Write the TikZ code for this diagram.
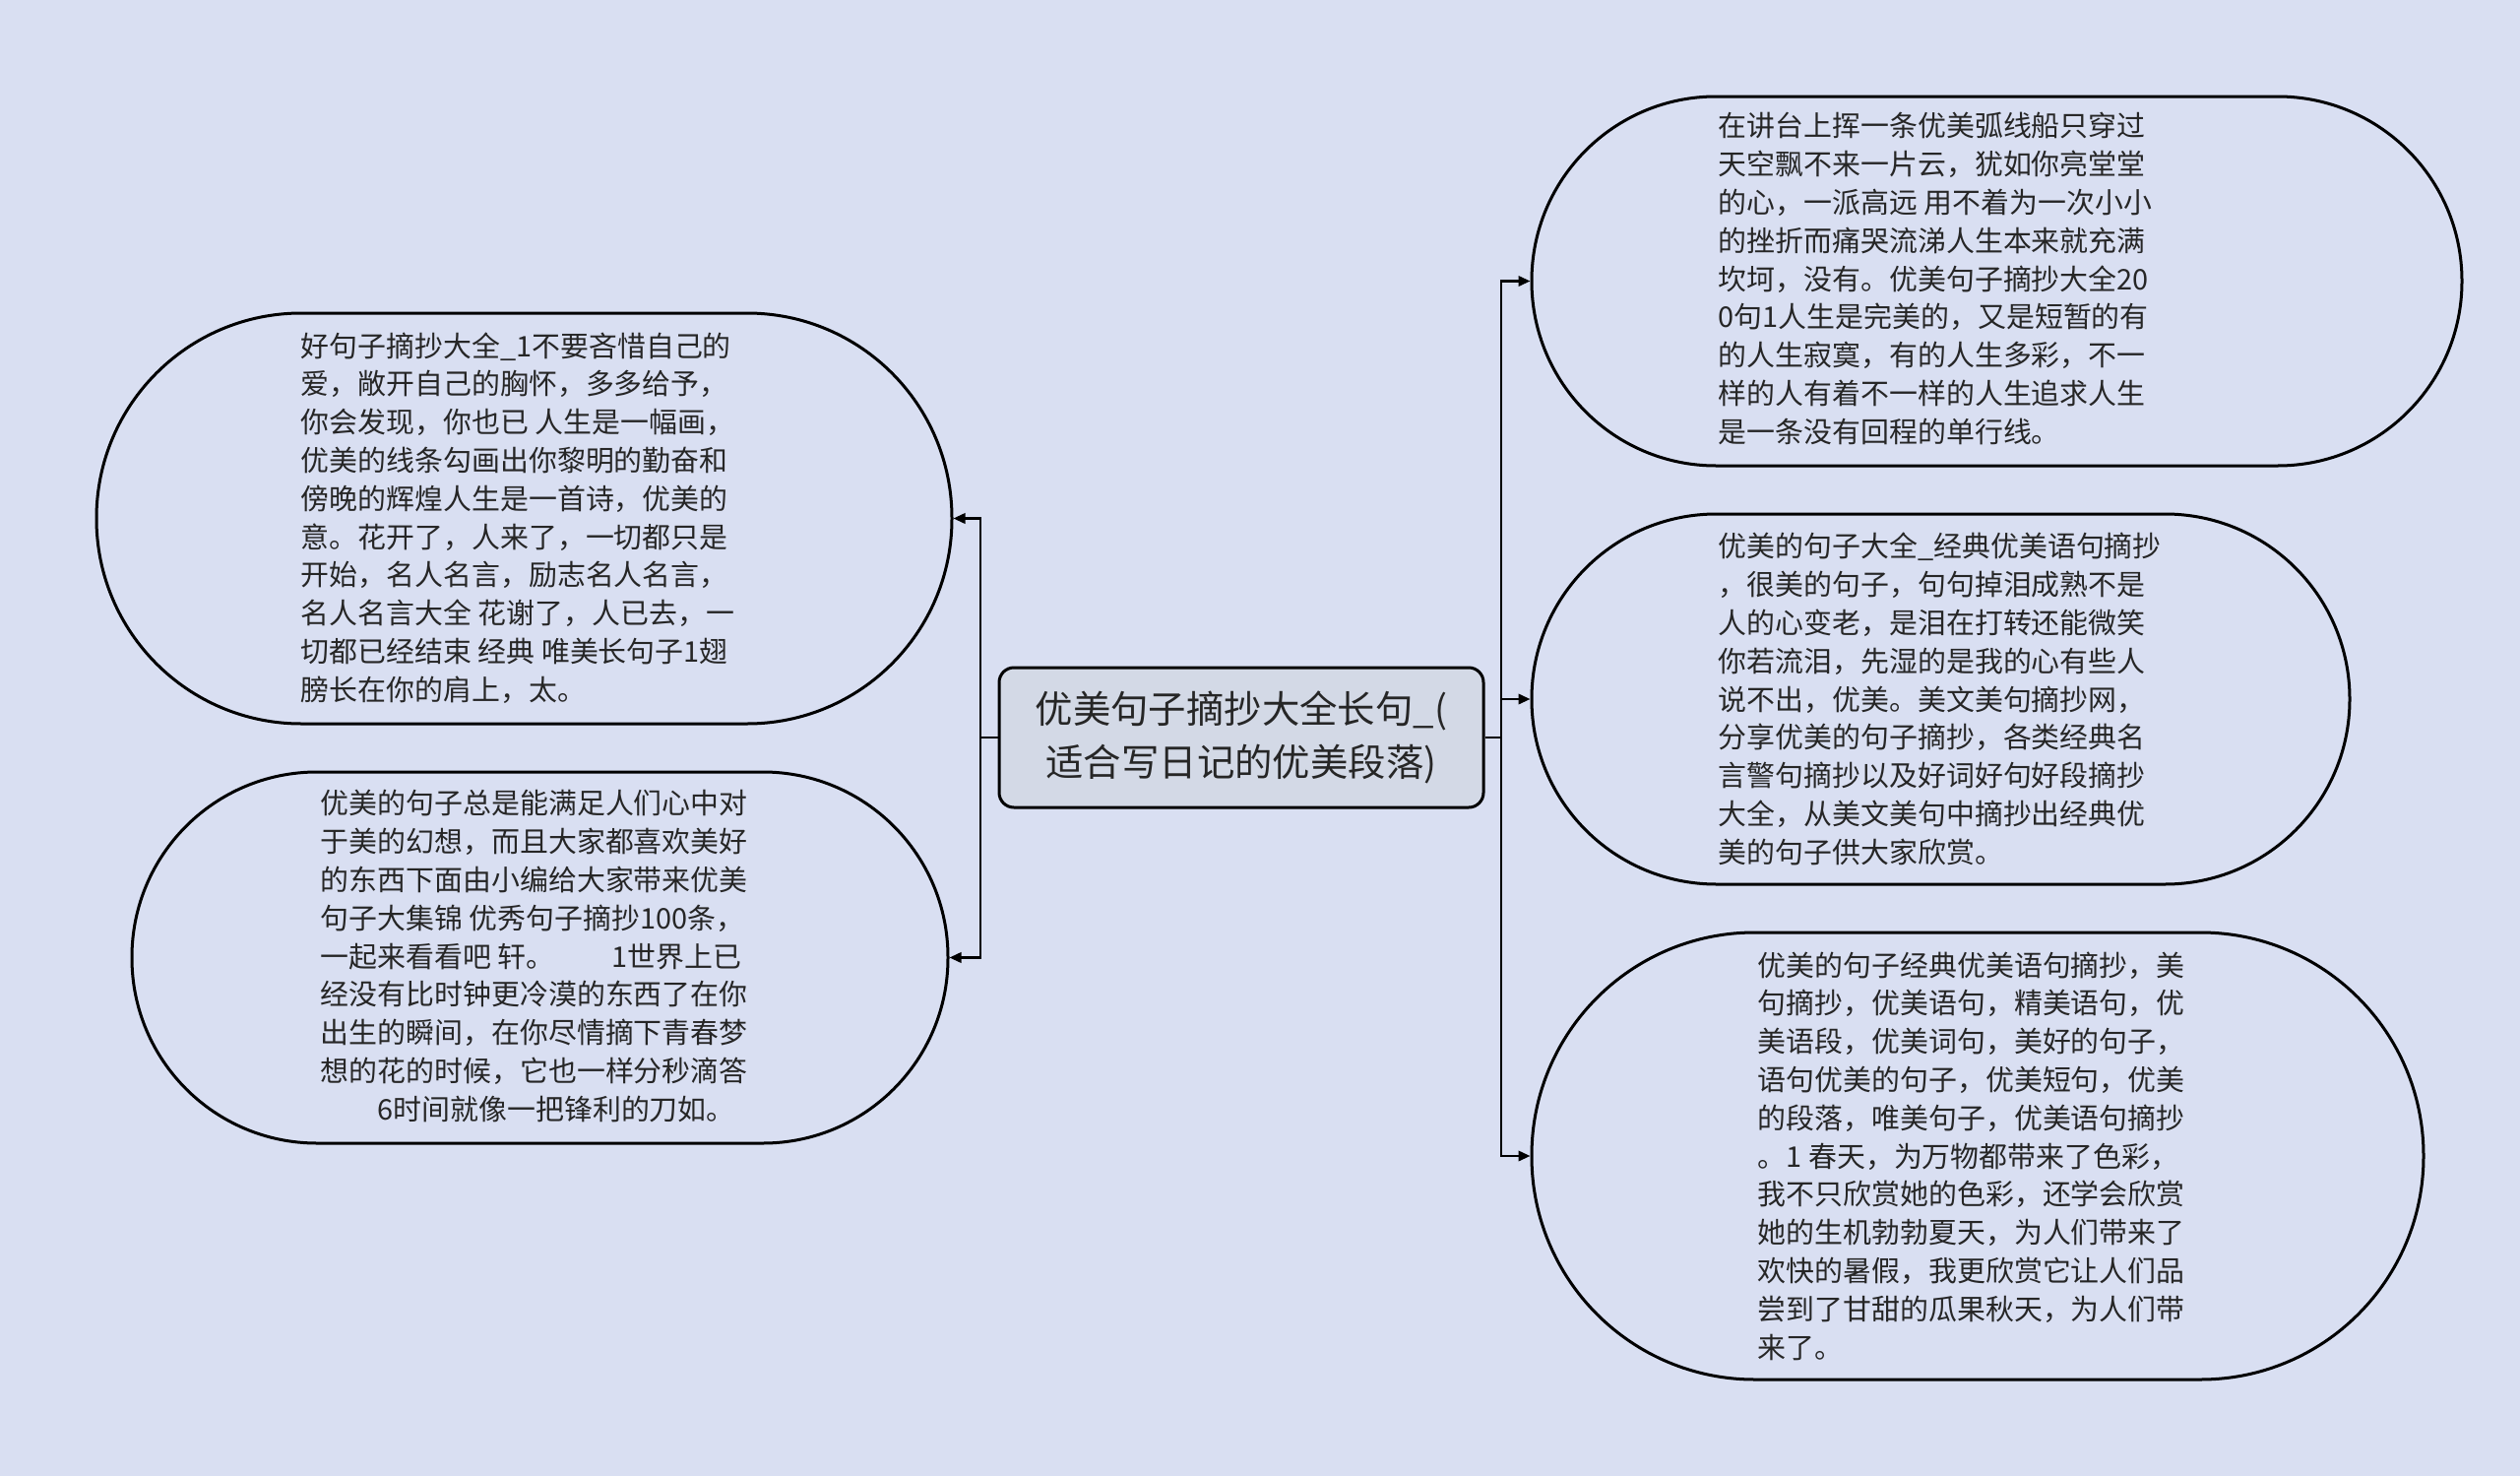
\documentclass[tikz,border=0pt]{standalone}
\usepackage{fontspec}
\setmainfont{Noto Sans CJK SC}
\usetikzlibrary{arrows.meta}
\definecolor{bgc}{HTML}{D9DFF2}
\definecolor{cfill}{HTML}{D3D9E6}
\definecolor{txt}{HTML}{262626}
\begin{document}
\begin{tikzpicture}[x=0.25pt,y=-0.25pt,
  bubble/.style={draw=black, line width=0.75pt, shape=rectangle, inner sep=0pt},
  centerbox/.style={draw=black, line width=0.75pt, fill=cfill, rounded corners=3.75pt,
    minimum width=123pt, minimum height=35.5pt, inner sep=0pt, align=center, text=txt,
    font=\fontsize{9.6pt}{13.5pt}\selectfont},
  body/.style={align=left, inner sep=0pt, text=txt, anchor=west,
    font=\fontsize{7.23pt}{9.7pt}\selectfont},
  conn/.style={draw=black, line width=0.6pt},
  tip/.style={-{Triangle[length=3pt,width=2.6pt]}}]
\useasboundingbox (0,0) rectangle (2560,1499);
\fill[bgc] (0,0) rectangle (2560,1499);

% center
\node[centerbox] (C) at (1261,749) {优美句子摘抄大全长句\_(\\适合写日记的优美段落)};

% bubbles
\node[bubble, minimum width=217.25pt, minimum height=104.25pt, rounded corners=52pt] (L1) at (532.5,526.5) {};
\node[bubble, minimum width=207.25pt, minimum height=94.25pt, rounded corners=47pt] (L2) at (548.5,972.5) {};
\node[bubble, minimum width=236.25pt, minimum height=93.75pt, rounded corners=46.8pt] (R1) at (2028.5,285.5) {};
\node[bubble, minimum width=207.75pt, minimum height=94pt, rounded corners=46.9pt] (R2) at (1971.5,710) {};
\node[bubble, minimum width=226.5pt, minimum height=113.5pt, rounded corners=56.6pt] (R3) at (2009,1174) {};

% texts
\node[body] (T1) at (305,526) {好句子摘抄大全\_1不要吝惜自己的\\
爱，敞开自己的胸怀，多多给予，\\
你会发现，你也已 人生是一幅画，\\
优美的线条勾画出你黎明的勤奋和\\
傍晚的辉煌人生是一首诗，优美的\\
意。花开了，人来了，一切都只是\\
开始，名人名言，励志名人名言，\\
名人名言大全 花谢了，人已去，一\\
切都已经结束 经典 唯美长句子1翅\\
膀长在你的肩上，太。};

\node[body] (T2) at (325,971) {优美的句子总是能满足人们心中对\\
于美的幻想，而且大家都喜欢美好\\
的东西下面由小编给大家带来优美\\
句子大集锦 优秀句子摘抄100条，\\
一起来看看吧 轩。\hspace{2em}1世界上已\\
经没有比时钟更冷漠的东西了在你\\
出生的瞬间，在你尽情摘下青春梦\\
想的花的时候，它也一样分秒滴答\\
\hspace*{2em}6时间就像一把锋利的刀如。};

\node[body] (T3) at (1745,283) {在讲台上挥一条优美弧线船只穿过\\
天空飘不来一片云，犹如你亮堂堂\\
的心，一派高远 用不着为一次小小\\
的挫折而痛哭流涕人生本来就充满\\
坎坷，没有。优美句子摘抄大全20\\
0句1人生是完美的，又是短暂的有\\
的人生寂寞，有的人生多彩，不一\\
样的人有着不一样的人生追求人生\\
是一条没有回程的单行线。};

\node[body] (T4) at (1745,710) {优美的句子大全\_经典优美语句摘抄\\
，很美的句子，句句掉泪成熟不是\\
人的心变老，是泪在打转还能微笑\\
你若流泪，先湿的是我的心有些人\\
说不出，优美。美文美句摘抄网，\\
分享优美的句子摘抄，各类经典名\\
言警句摘抄以及好词好句好段摘抄\\
大全，从美文美句中摘抄出经典优\\
美的句子供大家欣赏。};

\node[body] (T5) at (1785,1174) {优美的句子经典优美语句摘抄，美\\
句摘抄，优美语句，精美语句，优\\
美语段，优美词句，美好的句子，\\
语句优美的句子，优美短句，优美\\
的段落，唯美句子，优美语句摘抄\\
。1 春天，为万物都带来了色彩，\\
我不只欣赏她的色彩，还学会欣赏\\
她的生机勃勃夏天，为人们带来了\\
欢快的暑假，我更欣赏它让人们品\\
尝到了甘甜的瓜果秋天，为人们带\\
来了。};

% connectors
\coordinate (JL) at (996,749);
\coordinate (JR) at (1525,749);
\draw[conn] (C.west) -- (JL);
\draw[conn] (C.east) -- (JR);
\draw[conn,tip] (JL) |- (L1.east);
\draw[conn,tip] (JL) |- (L2.east);
\draw[conn,tip] (JR) |- (R1.west);
\draw[conn,tip] (JR) |- (R2.west);
\draw[conn,tip] (JR) |- (R3.west);
\end{tikzpicture}
\end{document}
